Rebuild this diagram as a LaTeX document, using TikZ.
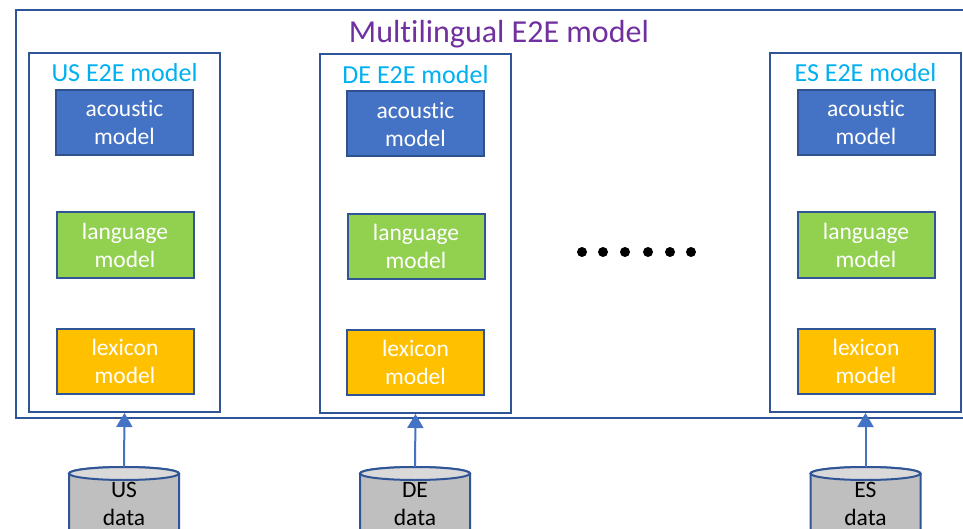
\documentclass[tikz,border=0pt]{standalone}
\usepackage{fontspec}
\setmainfont{Carlito}[Ligatures=NoCommon]
\usetikzlibrary{arrows.meta}
\definecolor{frameblue}{HTML}{2F5597}
\definecolor{acfill}{HTML}{4472C4}
\definecolor{acborder}{HTML}{2F528F}
\definecolor{lmfill}{HTML}{92D050}
\definecolor{lxfill}{HTML}{FFC000}
\definecolor{titlecyan}{HTML}{00B0F0}
\definecolor{titlepurple}{HTML}{7030A0}
\definecolor{arrowblue}{HTML}{4472C4}
\definecolor{cylbody}{HTML}{BFBFBF}
\definecolor{cyltop}{HTML}{D9D9D9}
\tikzset{
  px/.style={x=1pt,y=-1pt},
  outerbox/.style={draw=frameblue,line width=2pt},
  langbox/.style={draw=frameblue,line width=2pt,fill=white,minimum width=191pt,minimum height=359pt,inner sep=0pt},
  subbox/.style={line width=2pt,minimum width=137pt,minimum height=65pt,inner sep=0pt,align=center,text=white,font=\fontsize{23.5}{28}\selectfont},
  acbox/.style={subbox,draw=acborder,fill=acfill},
  lmbox/.style={subbox,draw=frameblue,fill=lmfill},
  lxbox/.style={subbox,draw=frameblue,fill=lxfill},
  langtitle/.style={anchor=base,text=titlecyan,font=\fontsize{26}{30}\selectfont,inner sep=0pt},
  datatext/.style={align=center,font=\fontsize{23.5}{28}\selectfont,inner sep=0pt,anchor=base},
  feed/.style={draw=arrowblue,line width=2pt,-{Triangle[width=16pt,length=14pt]}},
  cylline/.style={draw=frameblue,line width=2pt},
  dot/.style={circle,fill=black,minimum size=10pt,inner sep=0pt}
}
\begin{document}
\begin{tikzpicture}[px]
\useasboundingbox (0,0) rectangle (963,529);
\clip (0,0) rectangle (963,529);
% outer frame
\draw[outerbox] (16,10) rectangle (985,418);
\node[anchor=base,text=titlepurple,font=\fontsize{32}{36}\selectfont,inner sep=0pt] (multi) at (499,43) {Multilingual E2E model};
% language boxes
\node[langbox] (us) at (124.5,232.5) {};
\node[langbox] (de) at (415.5,233.5) {};
\node[langbox] (es) at (865.5,232.5) {};
\node[langtitle] (ust) at (124.5,82) {US E2E model};
\node[langtitle] (det) at (415.5,84) {DE E2E model};
\node[langtitle] (est) at (865.5,82) {ES E2E model};
% sub models
\node[acbox] (usac) at (124.5,122.5) {acoustic\\model};
\node[lmbox] (uslm) at (125,245) {language\\model};
\node[lxbox] (uslx) at (125,361) {lexicon\\model};
\node[acbox] (deac) at (415.5,124) {acoustic\\model};
\node[lmbox] (delm) at (416,246.5) {language\\model};
\node[lxbox] (delx) at (415.5,362.5) {lexicon\\model};
\node[acbox] (esac) at (866,122.5) {acoustic\\model};
\node[lmbox] (eslm) at (866,245) {language\\model};
\node[lxbox] (eslx) at (866,361) {lexicon\\model};
% dots
\foreach \i/\x in {1/582,2/603,3/625,4/648,5/670,6/691}
  \node[dot] (d\i) at (\x,252) {};
% cylinders
\foreach \n/\cx in {us/124,de/415,es/865.5}{
  \fill[cylbody] (\cx-55,473.5) rectangle (\cx+55,560);
  \draw[cylline] (\cx-55,560) -- (\cx-55,473.5) arc[start angle=180,end angle=360,x radius=55pt,y radius=-6.5pt] -- (\cx+55,560);
  \draw[cylline,fill=cyltop] (\cx,473.5) ellipse[x radius=55pt,y radius=6.5pt];
  \coordinate (\n top) at (\cx,467);
}
\node[datatext] (usd) at (124,525) {US\\data};
\node[datatext] (ded) at (415,525) {DE\\data};
\node[datatext] (esd) at (865.5,525) {ES\\data};
% arrows
\draw[feed] (ustop) -- (us.south);
\draw[feed] (detop) -- (de.south);
\draw[feed] (estop) -- (es.south);
\end{tikzpicture}
\end{document}
